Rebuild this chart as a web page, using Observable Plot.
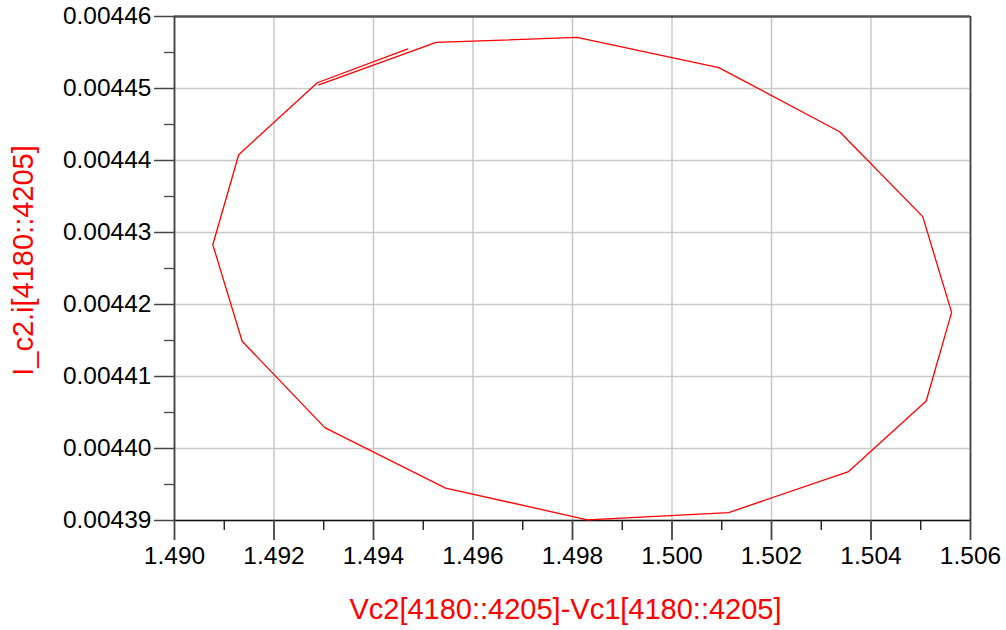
<!DOCTYPE html>
<html>
<head>
<meta charset="utf-8">
<script src="https://cdn.jsdelivr.net/npm/d3@7"></script>
<script src="https://cdn.jsdelivr.net/npm/@observablehq/plot@0.6"></script>
<style>
  html, body { margin: 0; padding: 0; background: #fff; }
  #chart { width: 1006px; height: 630px; }
</style>
</head>
<body>
<div id="chart"></div>
<script>
// Trajectory samples (x = Vc2 - Vc1, y = I_c2.i)
const vdiff = [1.49469, 1.49287, 1.49129, 1.49077, 1.49136, 1.49302, 1.49545, 1.49830, 1.50114,
               1.50355, 1.50511, 1.50562, 1.50504, 1.50337, 1.50094, 1.49809, 1.49526, 1.49290];
const icur  = [0.0044555, 0.0044508, 0.0044408, 0.0044283, 0.0044149, 0.0044029, 0.0043945, 0.0043901, 0.0043911,
               0.0043968, 0.0044066, 0.0044189, 0.0044322, 0.0044440, 0.0044529, 0.0044571, 0.0044564, 0.0044505];

const xMajor = [1.490, 1.492, 1.494, 1.496, 1.498, 1.500, 1.502, 1.504, 1.506];
const xMinor = [1.491, 1.493, 1.495, 1.497, 1.499, 1.501, 1.503, 1.505];
const yMajor = [0.00439, 0.00440, 0.00441, 0.00442, 0.00443, 0.00444, 0.00445, 0.00446];
const yMinor = [0.004395, 0.004405, 0.004415, 0.004425, 0.004435, 0.004445, 0.004455];

const xTitle = "Vc2[4180::4205]-Vc1[4180::4205]";
const yTitle = "I_c2.i[4180::4205]";

const data = vdiff.map((v, i) => ({x: v, y: icur[i]}));
const xDom = [xMajor[0], xMajor[xMajor.length - 1]];
const yDom = [yMajor[0], yMajor[yMajor.length - 1]];

const chart = Plot.plot({
  width: 1006,
  height: 630,
  marginLeft: 174,
  marginRight: 36,
  marginTop: 16,
  marginBottom: 110,
  style: {fontFamily: "'Liberation Sans', Arial, sans-serif", background: "#fff", overflow: "visible"},
  x: {domain: xDom},
  y: {domain: yDom},
  marks: [
    Plot.gridX(xMajor, {stroke: "#c8c8c8", strokeOpacity: 1, strokeWidth: 1.5}),
    Plot.gridY(yMajor, {stroke: "#c8c8c8", strokeOpacity: 1, strokeWidth: 1.5}),
    Plot.ruleY([yDom[1]], {stroke: "#555", strokeWidth: 2.5}),
    Plot.ruleX([xDom[1]], {stroke: "#444", strokeWidth: 1.8}),
    Plot.ruleX([xDom[0]], {stroke: "#444", strokeWidth: 1.8}),
    Plot.ruleY([yDom[0]], {stroke: "#111", strokeWidth: 1.3}),
    Plot.axisY(yMajor, {tickSize: 20, tickPadding: 3, tickFormat: d3.format(".5f"), fontSize: 24.5,
      stroke: "#444", strokeWidth: 1.5, fill: "#000", label: null}),
    Plot.axisY(yMinor, {tickSize: 10, tickFormat: () => "", stroke: "#444", strokeWidth: 1.3, label: null}),
    Plot.axisX(xMajor, {tickSize: 20, tickPadding: 6, tickFormat: d3.format(".3f"), fontSize: 24.5,
      stroke: "#444", strokeWidth: 1.8, fill: "#000", label: null}),
    Plot.axisX(xMinor, {tickSize: 10, tickFormat: () => "", stroke: "#111", strokeWidth: 1.3, label: null}),
    Plot.line(data, {x: "x", y: "y", stroke: "#ff0000", strokeWidth: 1.3}),
    Plot.text([xTitle], {frameAnchor: "bottom", dx: -7, dy: 89, fill: "#ff0000", fontSize: 29, lineAnchor: "middle", textAnchor: "middle"}),
    Plot.text([yTitle], {frameAnchor: "left", dx: -151, dy: -8, rotate: -90, fill: "#ff0000", fontSize: 29, lineAnchor: "middle", textAnchor: "middle"})
  ]
});
document.getElementById("chart").appendChild(chart);
</script>
</body>
</html>
